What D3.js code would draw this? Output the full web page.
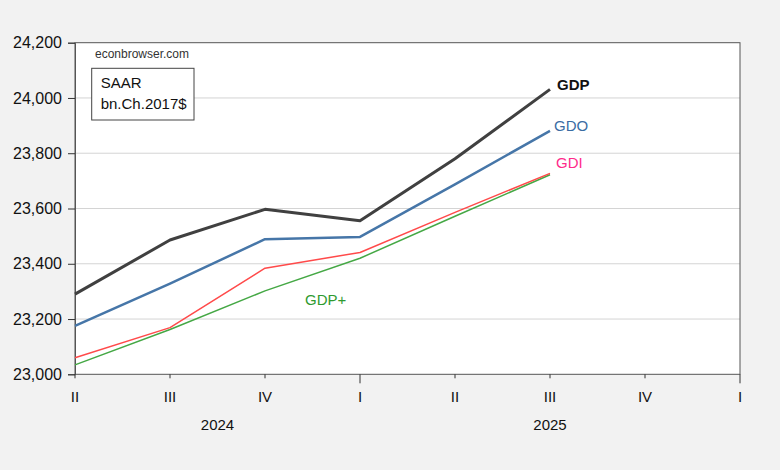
<!DOCTYPE html>
<html>
<head>
<meta charset="utf-8">
<script src="https://cdn.jsdelivr.net/npm/d3@7"></script>
<style>
  body { margin: 0; background: #f2f2f2; }
  svg { display: block; font-family: "Liberation Sans", Arial, sans-serif; }
</style>
</head>
<body>
<svg width="780" height="470"></svg>
<script>
// quarters shown on the x axis, 2024Q2 .. 2026Q1
const quarters = ["II", "III", "IV", "I", "II", "III", "IV", "I"];
const years = [{label: "2024", from: 0, to: 3}, {label: "2025", from: 3, to: 7}];
const yTicks = [23000, 23200, 23400, 23600, 23800, 24000, 24200];

// SAAR, bn. chained 2017 $, 2024Q2 .. 2025Q3
const gdp = [23290, 23486, 23597, 23556, 23780, 24031];
const gdo = [23175, 23328, 23489, 23497, 23687, 23881];
const gdi = [23060, 23169, 23384, 23441, 23586, 23727];
const gdpPlus = [23034, 23162, 23302, 23420, 23572, 23722];

const svg = d3.select("svg");
const width = 780, height = 470;
const plotLeft = 75, plotRight = 740, plotTop = 42.7, plotBottom = 374.3;

svg.append("rect")
    .attr("width", width)
    .attr("height", height)
    .attr("fill", "#f2f2f2");

let x = d3.scaleLinear()
    .domain([0, quarters.length - 1])
    .range([plotLeft, plotRight]);
let y = d3.scaleLinear()
    .domain([23000, 24200])
    .range([plotBottom, plotTop]);

svg.append("rect")
    .attr("x", plotLeft)
    .attr("y", plotTop)
    .attr("width", plotRight - plotLeft)
    .attr("height", plotBottom - plotTop)
    .attr("fill", "#fff");

// gridlines
svg.append("g")
    .selectAll("line")
    .data(yTicks.slice(1, -1))
    .join("line")
    .attr("x1", plotLeft)
    .attr("x2", plotRight)
    .attr("y1", d => y(d))
    .attr("y2", d => y(d))
    .attr("stroke", "#d4d4d4")
    .attr("stroke-width", 1);

// frame
svg.append("rect")
    .attr("x", plotLeft)
    .attr("y", plotTop)
    .attr("width", plotRight - plotLeft)
    .attr("height", plotBottom - plotTop)
    .attr("fill", "none")
    .attr("stroke", "#555")
    .attr("stroke-width", 1);

// y axis
let yAxis = svg.append("g")
    .attr("transform", "translate(" + plotLeft + ",0)")
    .call(d3.axisLeft(y).tickValues(yTicks).tickSize(7).tickPadding(6).tickFormat(d3.format(",")));
yAxis.select(".domain").attr("stroke", "#555");
yAxis.selectAll(".tick line").attr("stroke", "#333");
yAxis.selectAll("text")
    .attr("font-size", 16)
    .attr("font-family", "Liberation Sans, Arial, sans-serif")
    .attr("fill", "#111");

// x axis ticks: longer at year boundaries
let xAxis = svg.append("g");
xAxis.selectAll("line")
    .data(quarters)
    .join("line")
    .attr("x1", (d, i) => x(i))
    .attr("x2", (d, i) => x(i))
    .attr("y1", plotBottom)
    .attr("y2", d => d === "I" ? plotBottom + 9 : plotBottom + 4)
    .attr("stroke", "#333");
xAxis.selectAll("text.q")
    .data(quarters)
    .join("text")
    .classed("q", true)
    .attr("x", (d, i) => x(i))
    .attr("y", 402)
    .attr("text-anchor", "middle")
    .attr("font-size", 15)
    .attr("fill", "#111")
    .text(d => d);
xAxis.selectAll("text.yr")
    .data(years)
    .join("text")
    .classed("yr", true)
    .attr("x", d => (x(d.from) + x(d.to)) / 2)
    .attr("y", 430)
    .attr("text-anchor", "middle")
    .attr("font-size", 15)
    .attr("fill", "#111")
    .text(d => d.label);

// series
let series = [
    {name: "GDP+", values: gdpPlus, color: "#45a845", width: 1.5},
    {name: "GDI", values: gdi, color: "#ff4a4a", width: 1.5},
    {name: "GDO", values: gdo, color: "#4676a8", width: 2.5},
    {name: "GDP", values: gdp, color: "#404040", width: 3}
];
let line = d3.line()
    .x((d, i) => x(i))
    .y(d => y(d));
svg.append("g")
    .selectAll("path")
    .data(series)
    .join("path")
    .attr("d", d => line(d.values))
    .attr("fill", "none")
    .attr("stroke", d => d.color)
    .attr("stroke-width", d => d.width)
    .attr("stroke-linejoin", "round");

// series labels
let labels = [
    {text: "GDP", x: 557, y: 90, color: "#111", weight: "bold"},
    {text: "GDO", x: 554, y: 131, color: "#3a6ca3", weight: "normal"},
    {text: "GDI", x: 556, y: 168, color: "#ff2a8a", weight: "normal"},
    {text: "GDP+", x: 305, y: 305, color: "#2f9a2f", weight: "normal"}
];
svg.append("g")
    .selectAll("text")
    .data(labels)
    .join("text")
    .attr("x", d => d.x)
    .attr("y", d => d.y)
    .attr("font-size", 15)
    .attr("font-weight", d => d.weight)
    .attr("fill", d => d.color)
    .text(d => d.text);

// source + units box
svg.append("text")
    .attr("x", 95)
    .attr("y", 58)
    .attr("font-size", 12)
    .attr("fill", "#333")
    .text("econbrowser.com");
svg.append("rect")
    .attr("x", 91.7)
    .attr("y", 68.3)
    .attr("width", 102.3)
    .attr("height", 51.7)
    .attr("fill", "#fff")
    .attr("stroke", "#444")
    .attr("stroke-width", 1);
svg.append("text")
    .attr("x", 100.7)
    .attr("y", 88)
    .attr("font-size", 15)
    .attr("fill", "#111")
    .text("SAAR");
svg.append("text")
    .attr("x", 100.7)
    .attr("y", 108.5)
    .attr("font-size", 15)
    .attr("fill", "#111")
    .text("bn.Ch.2017$");
</script>
</body>
</html>
